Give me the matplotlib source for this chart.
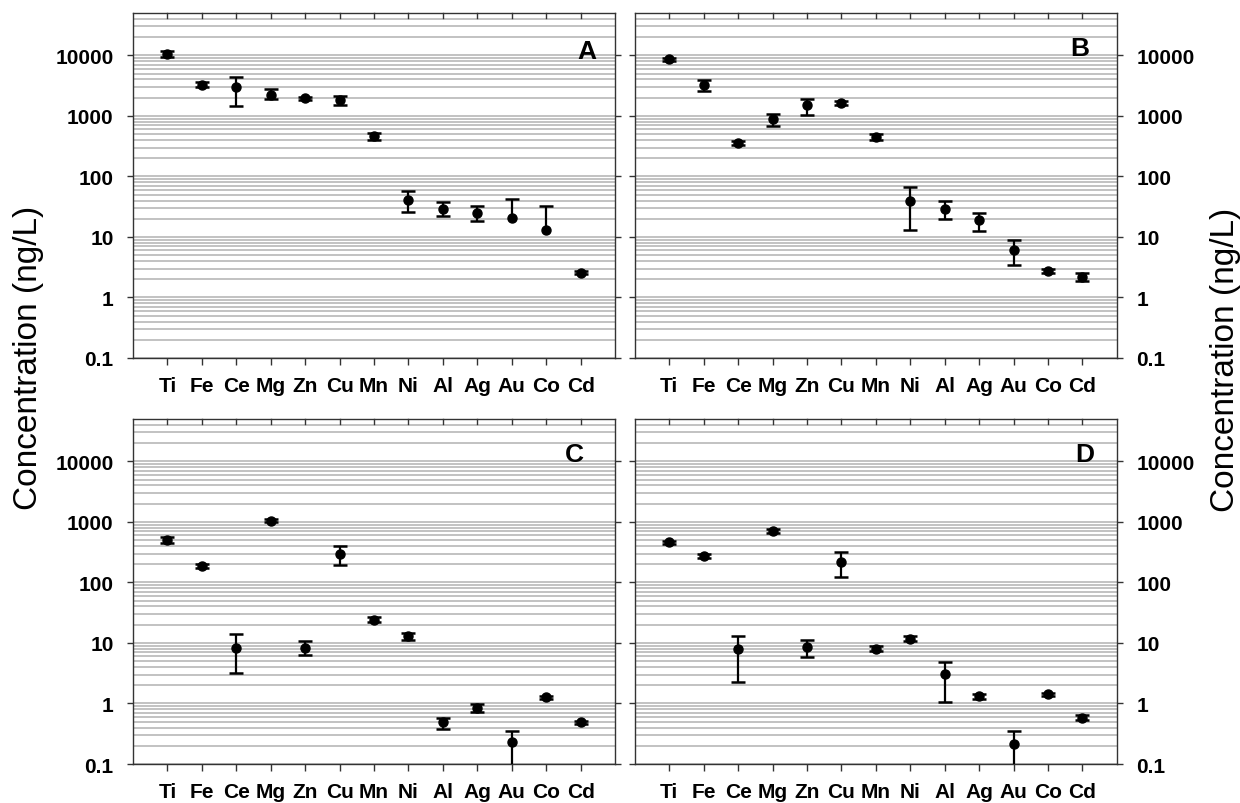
import numpy as np
import matplotlib
matplotlib.use("Agg")
import matplotlib.pyplot as plt
from matplotlib.ticker import LogLocator, NullFormatter

plt.rcParams['font.family'] = ['Liberation Sans', 'DejaVu Sans']

elements = ["Ti", "Fe", "Ce", "Mg", "Zn", "Cu", "Mn", "Ni", "Al", "Ag", "Au", "Co", "Cd"]
ytick_values = [0.1, 1, 10, 100, 1000, 10000]
ytick_labels = ["0.1", "1", "10", "100", "1000", "10000"]
panel_letters = ["A", "B", "C", "D"]

# mean concentrations (ng/L)
mean_A = [10600, 3260, 2980, 2250, 1940, 1840, 463, 41.0, 29.2, 25.1, 20.8, 13.1, 2.56]
low_A = [9500, 2950, 1450, 1915, 1800, 1520, 407, 25.7, 22.1, 18.0, np.nan, np.nan, 2.40]
high_A = [11800, 3600, 4470, 2730, 2080, 2170, 512, 56.5, 37.7, 31.9, 42.7, 31.9, 2.72]

mean_B = [8590, 3190, 361, 877, 1493, 1652, 448, 39.2, 29.3, 19.3, 6.0, 2.77, 2.21]
low_B = [8000, 2610, 335, 671, 1047, 1540, 405, 13.2, 19.5, 12.5, 3.48, 2.58, 1.90]
high_B = [9200, 3860, 390, 1087, 1925, 1770, 495, 66.8, 38.7, 25.2, 8.8, 2.97, 2.56]

mean_C = [504, 184, 8.36, 1047, 8.36, 300, 24.1, 13.0, 0.49, 0.853, 0.23, 1.26, 0.49]
low_C = [455, 170, 3.2, 980, 6.25, 196, 22.0, 11.3, 0.376, 0.733, 0.05, 1.18, 0.46]
high_C = [560, 200, 13.8, 1120, 10.8, 401, 26.5, 14.6, 0.583, 0.97, 0.357, 1.34, 0.52]

mean_D = [457, 276, 7.87, 703, 8.6, 220, 8.07, 11.8, 3.02, 1.31, 0.216, 1.41, 0.585]
low_D = [425, 255, 2.26, 650, 5.8, 122, 7.4, 10.8, 1.05, 1.20, 0.05, 1.32, 0.54]
high_D = [490, 300, 13.0, 760, 11.3, 317, 8.8, 12.9, 4.87, 1.43, 0.353, 1.50, 0.635]

panels = [
    (mean_A, low_A, high_A),
    (mean_B, low_B, high_B),
    (mean_C, low_C, high_C),
    (mean_D, low_D, high_D),
]

fig = plt.figure(figsize=(12.4, 8.04), dpi=100)
positions = [
    [0.1073, 0.5535, 0.3887, 0.429],
    [0.512, 0.5535, 0.3887, 0.429],
    [0.1073, 0.0485, 0.3887, 0.4291],
    [0.512, 0.0485, 0.3887, 0.4291],
]
letter_pos = [(0.942, 0.89), (0.923, 0.90), (0.915, 0.90), (0.934, 0.90)]

x = np.arange(1, len(elements) + 1)

for i, (pos, (mean, low, high)) in enumerate(zip(positions, panels)):
    ax = fig.add_axes(pos)
    ax.set_yscale('log')
    ax.set_ylim(0.1, 50000)
    ax.set_xlim(0, len(elements) + 1)

    mean = np.array(mean, dtype=float)
    low = np.array(low, dtype=float)
    high = np.array(high, dtype=float)
    bottom = np.where(np.isnan(low), mean, low)

    # grid lines
    ax.yaxis.set_major_locator(LogLocator(base=10, numticks=20))
    ax.yaxis.set_minor_locator(LogLocator(base=10, subs=np.arange(2, 10), numticks=20))
    ax.yaxis.set_minor_formatter(NullFormatter())
    ax.grid(True, axis='y', which='both', color='#b8b8b8', linewidth=1.2, zorder=0)
    ax.set_axisbelow(True)

    # error bars
    ax.vlines(x, bottom, high, colors='black', linewidth=1.6, zorder=3)
    ax.plot(x, high, linestyle='none', marker='_', markersize=10,
            markeredgewidth=1.8, color='black', zorder=3)
    ax.plot(x, low, linestyle='none', marker='_', markersize=10,
            markeredgewidth=1.8, color='black', zorder=3)
    ax.plot(x, mean, linestyle='none', marker='o', markersize=6.5,
            color='black', zorder=4)

    ax.set_yticks(ytick_values)
    ax.set_xticks(x)
    ax.set_xticklabels(elements, fontsize=15, fontweight='bold')

    right = (i % 2 == 1)
    ax.set_yticklabels(ytick_labels, fontsize=15, fontweight='bold')
    ax.tick_params(axis='y', which='major', direction='out', length=4, width=1,
                   left=True, right=True, labelleft=not right, labelright=right,
                   pad=10, colors='#333333', labelcolor='black')
    ax.tick_params(axis='y', which='minor', length=0)
    ax.tick_params(axis='x', which='major', direction='out', length=5, width=1,
                   bottom=True, top=False, pad=8, colors='#333333', labelcolor='black')
    # inward ticks on top
    for xv in x:
        ax.plot([xv, xv], [1, 0.985], transform=ax.get_xaxis_transform(),
                color='#333333', linewidth=1, clip_on=False, zorder=5)

    for sp in ax.spines.values():
        sp.set_color('#333333')
        sp.set_linewidth(1.0)

    ax.text(letter_pos[i][0], letter_pos[i][1], panel_letters[i],
            transform=ax.transAxes, fontsize=19, fontweight='bold',
            ha='center', va='center')

fig.text(0.0226, 0.555, "Concentration (ng/L)", rotation=90, fontsize=24,
         ha='center', va='center')
fig.text(0.9887, 0.552, "Concentration (ng/L)", rotation=90, fontsize=24,
         ha='center', va='center')

fig.savefig("out.png", dpi=100)
